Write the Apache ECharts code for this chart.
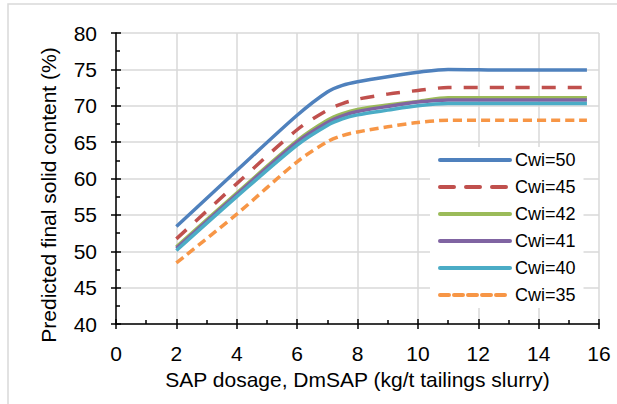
<!DOCTYPE html>
<html>
<head>
<meta charset="utf-8">
<script src="https://cdn.jsdelivr.net/npm/echarts@6/dist/echarts.min.js"></script>
<style>
  html, body { margin: 0; padding: 0; background: #fff; }
  #chart { width: 617px; height: 404px; }
</style>
</head>
<body>
<div id="chart"></div>
<script>
(function() {
  // SAP dosage (kg/t) at which each curve was read
  var dosage = [2, 4, 6, 7, 7.5, 8, 9, 10, 11, 13, 15.6];
  var names = ['Cwi=50', 'Cwi=45', 'Cwi=42', 'Cwi=41', 'Cwi=40', 'Cwi=35'];
  var cwi50 = [53.4, 61.1, 68.7, 71.9, 72.8, 73.3, 74.0, 74.6, 75.0, 74.9, 74.9];
  var cwi45 = [51.7, 59.3, 66.7, 69.4, 70.3, 70.9, 71.6, 72.1, 72.5, 72.5, 72.5];
  var cwi42 = [50.6, 58.0, 65.2, 68.0, 68.9, 69.5, 70.1, 70.6, 71.1, 71.1, 71.1];
  var cwi41 = [50.4, 57.8, 65.0, 67.7, 68.6, 69.2, 69.9, 70.5, 70.8, 70.8, 70.8];
  var cwi40 = [50.1, 57.5, 64.6, 67.3, 68.2, 68.75, 69.4, 70.0, 70.3, 70.3, 70.3];
  var cwi35 = [48.4, 55.1, 62.3, 65.05, 65.9, 66.4, 67.1, 67.7, 68.0, 68.0, 68.0];
  var xTicks = [0, 2, 4, 6, 8, 10, 12, 14, 16];
  var yTicks = [40, 45, 50, 55, 60, 65, 70, 75, 80];

  var values = [cwi50, cwi45, cwi42, cwi41, cwi40, cwi35];
  var colors = ['#4F81BD', '#C0504D', '#9BBB59', '#8064A2', '#4BACC6', '#F79646'];
  var dashes = ['solid', [14, 12], 'solid', 'solid', 'solid', [9, 5]];
  var font = '"Liberation Sans", Arial, sans-serif';

  function pairs(arr) {
    return arr.map(function(v, i) { return [dosage[i], v]; });
  }

  var series = names.map(function(n, i) {
    return {
      name: n,
      type: 'line',
      xAxisIndex: 0,
      yAxisIndex: 0,
      smooth: 0.3,
      symbol: 'none',
      lineStyle: { color: colors[i], width: 3.5, type: dashes[i], cap: 'butt' },
      itemStyle: { color: colors[i] },
      data: pairs(values[i])
    };
  });

  var chart = echarts.init(document.getElementById('chart'), null, { renderer: 'svg' });
  chart.setOption({
    animation: false,
    backgroundColor: '#fff',
    textStyle: { fontFamily: font },
    graphic: [{
      type: 'rect',
      shape: { x: 8, y: 4, width: 640, height: 440 },
      style: { fill: 'none', stroke: '#d9d9d9', lineWidth: 1.5 },
      z: -1
    }, {
      // y axis title, centred on the chart area like the original
      type: 'text',
      x: 48,
      y: 195,
      rotation: Math.PI / 2,
      style: {
        text: 'Predicted final solid content (%)',
        font: '21px ' + font,
        fill: '#000',
        align: 'center',
        verticalAlign: 'middle'
      }
    }],
    grid: { left: 116, right: 18, top: 33, bottom: 80 },
    legend: {
      orient: 'vertical',
      left: 430,
      top: 147,
      data: names,
      itemWidth: 70,
      itemHeight: 14,
      itemGap: 9,
      padding: [4, 8, 4, 8],
      backgroundColor: '#fff',
      itemStyle: { color: 'transparent', borderWidth: 0, opacity: 0 },
      lineStyle: { width: 4, cap: 'round' },
      textStyle: { fontSize: 18, color: '#000', fontFamily: font }
    },
    xAxis: [{
      type: 'value',
      min: xTicks[0],
      max: xTicks[xTicks.length - 1],
      interval: 2,
      name: 'SAP dosage, DmSAP (kg/t tailings slurry)',
      nameLocation: 'middle',
      nameGap: 44,
      nameTextStyle: { fontSize: 21, color: '#000' },
      axisLine: { lineStyle: { color: '#000', width: 1.5 } },
      axisTick: { show: true, inside: false, length: 5, lineStyle: { color: '#000', width: 1.5 } },
      axisLabel: { fontSize: 21, color: '#000', margin: 19 },
      splitLine: { show: true, lineStyle: { color: '#d9d9d9', width: 1.5 } }
    }, {
      type: 'value',
      position: 'bottom',
      min: xTicks[0],
      max: xTicks[xTicks.length - 1],
      interval: 2,
      axisLine: { show: false },
      axisTick: { show: true, inside: true, length: 5, lineStyle: { color: '#000', width: 1.5 } },
      minorTick: { show: true, splitNumber: 2, length: 4, lineStyle: { color: '#000', width: 1.5 } },
      axisLabel: { show: false },
      splitLine: { show: false }
    }],
    yAxis: [{
      type: 'value',
      min: yTicks[0],
      max: yTicks[yTicks.length - 1],
      interval: 5,
      axisLine: { show: true, lineStyle: { color: '#000', width: 1.5 } },
      axisTick: { show: true, inside: false, length: 5, lineStyle: { color: '#000', width: 1.5 } },
      axisLabel: { fontSize: 21, color: '#000', margin: 19 },
      splitLine: { show: true, lineStyle: { color: '#d9d9d9', width: 1.5 } }
    }, {
      type: 'value',
      position: 'left',
      min: yTicks[0],
      max: yTicks[yTicks.length - 1],
      interval: 5,
      axisLine: { show: false },
      axisTick: { show: true, inside: true, length: 5, lineStyle: { color: '#000', width: 1.5 } },
      minorTick: { show: true, splitNumber: 2, length: 4, lineStyle: { color: '#000', width: 1.5 } },
      axisLabel: { show: false },
      splitLine: { show: false }
    }],
    series: series
  });
  window.addEventListener('resize', function() { chart.resize(); });
})();
</script>
</body>
</html>
